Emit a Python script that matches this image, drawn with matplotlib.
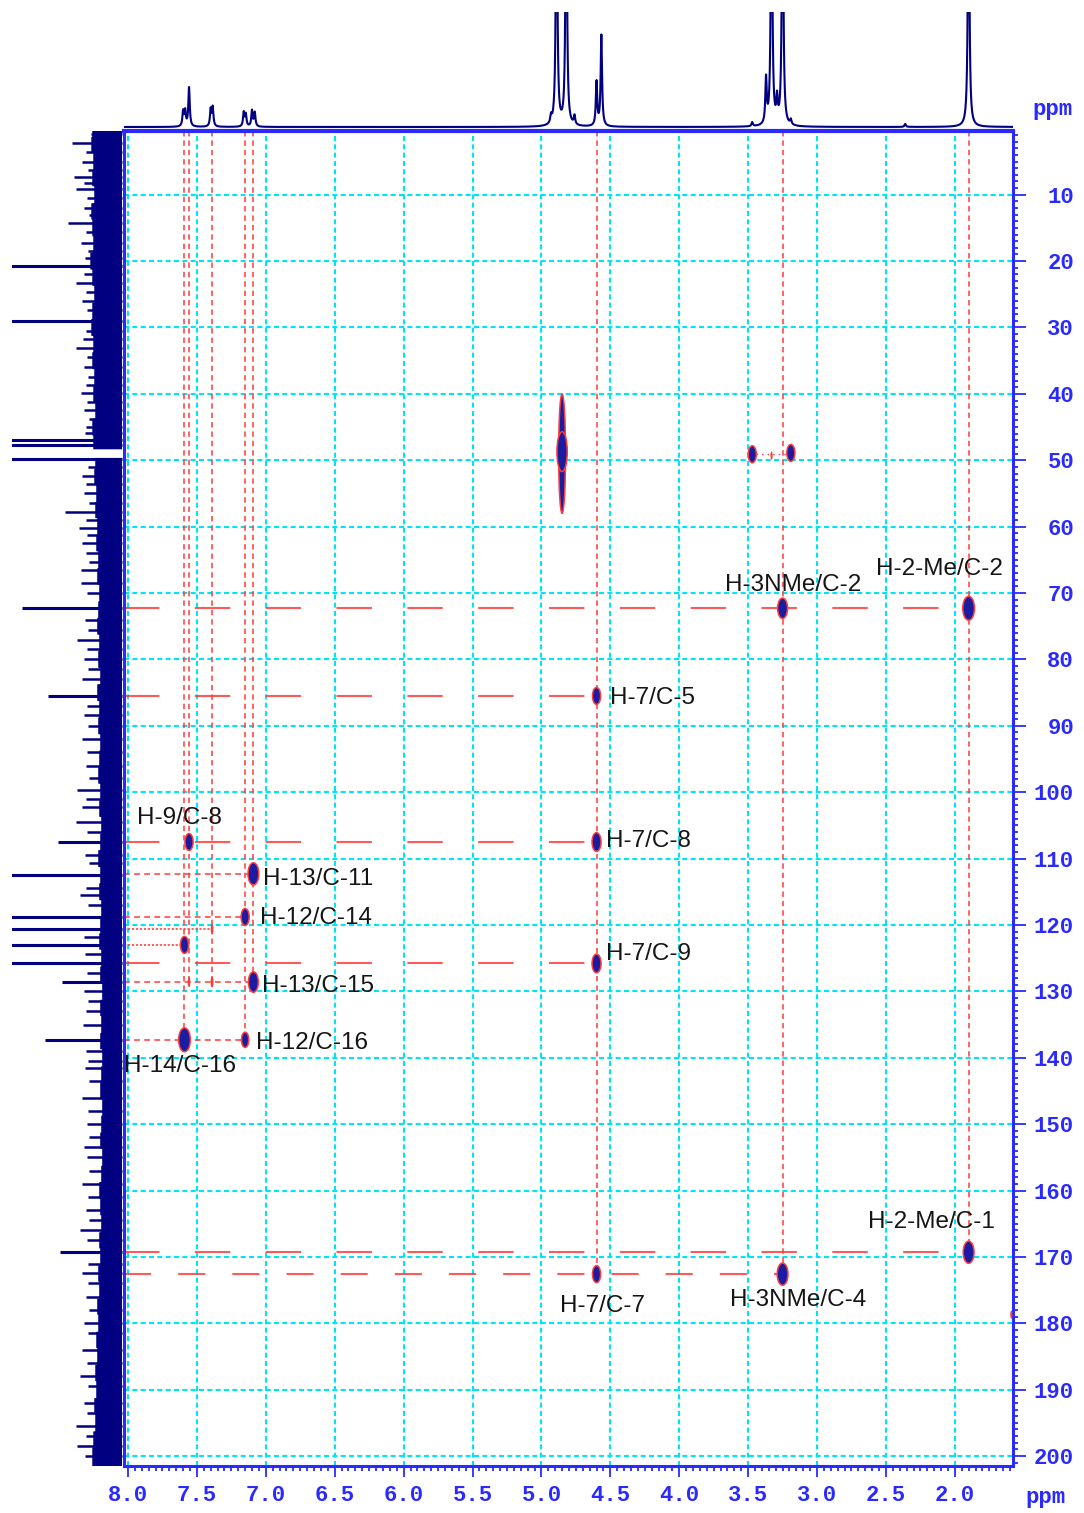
import numpy as np
import matplotlib
matplotlib.use("Agg")
import matplotlib.pyplot as plt
from matplotlib.patches import Ellipse
from matplotlib.ticker import MultipleLocator, FormatStrFormatter

# 1H projection: peak positions (ppm) and heights
h1_ppm = [7.600, 7.585, 7.557, 7.400, 7.385, 7.160, 7.145, 7.100, 7.080,
          4.930, 4.890, 4.820, 4.760, 4.600, 4.565,
          3.470, 3.370, 3.330, 3.290, 3.250, 3.190, 2.360, 1.900]
h1_height = [15, 15, 39, 17, 19, 14, 12, 16, 14,
             7, 300, 300, 9, 44, 91,
             4, 45, 300, 23, 300, 5, 3, 300]

# 13C projection: strong lines (ppm, length)
c13_ppm = [20.8, 29.0, 47.0, 47.7, 49.8, 72.3, 85.5, 107.5, 112.4, 118.8,
           120.6, 123.0, 125.8, 128.6, 137.3, 169.2]
c13_len = [120, 120, 120, 120, 120, 101, 75, 65, 120, 120,
           120, 120, 120, 61, 78, 63]

# 13C projection: noise spikes (ppm, length)
noise_ppm = [0.8, 2.2, 3.5, 5.0, 6.2, 7.4, 8.3, 9.2, 10.5, 12.0, 13.0, 14.2,
             15.6, 17.2, 18.5, 19.6, 22.0, 23.3, 24.6, 26.0, 27.3, 30.5, 31.8,
             33.1, 34.5, 36.0, 37.5, 38.6, 39.8, 41.2, 42.5, 43.8, 45.0, 45.9,
             51.0, 52.3, 53.5, 55.0, 56.5, 57.8, 59.0, 60.2, 61.3, 62.4, 64.0,
             65.3, 66.5, 68.5, 70.0, 74.0, 75.5, 77.0, 78.5, 80.0, 81.5, 83.0,
             87.0, 88.3, 90.0, 92.0, 94.0, 96.0, 97.8, 99.6, 101.0, 102.3,
             104.5, 106.0, 109.5, 110.6, 114.5, 115.5, 117.0, 121.8, 124.3,
             127.2, 130.0, 131.5, 133.0, 135.0, 139.0, 140.5, 141.5, 143.5,
             146.0, 148.0, 150.0, 152.0, 153.5, 155.0, 157.0, 159.0, 161.0,
             163.0, 164.5, 166.0, 167.5, 171.0, 172.5, 174.0, 176.0, 178.0,
             180.0, 181.5, 184.0, 186.0, 188.0, 189.5, 192.0, 193.5, 195.5,
             197.0, 198.5, 200.0]
noise_len = [31, 50, 36, 40, 34, 48, 38, 46, 35, 38, 33, 55,
             36, 41, 34, 37, 38, 46, 36, 40, 35, 36, 39,
             46, 35, 38, 34, 36, 41, 35, 38, 33, 36, 37,
             34, 40, 36, 38, 33, 58, 36, 43, 35, 40, 36,
             33, 41, 41, 35, 37, 34, 45, 35, 38, 34, 40,
             35, 38, 34, 40, 35, 36, 33, 45, 36, 40,
             46, 35, 37, 33, 36, 42, 34, 38, 37,
             35, 38, 34, 36, 39, 36, 34, 37, 33,
             40, 34, 35, 33, 38, 35, 33, 40, 34,
             36, 33, 42, 35, 34, 40, 34, 36, 33,
             38, 34, 40, 35, 42, 34, 38, 35, 46,
             36, 45, 37]

# 13C projection: baseline noise band width every 2.5 ppm (0..200)
band_w = [30, 31, 29, 30, 28, 31, 30, 29, 32, 30, 28, 30, 31, 29, 30, 28,
          29, 27, 30, 29, 27, 28, 26, 27, 25, 26, 24, 25, 23, 24, 25, 23,
          24, 22, 25, 23, 24, 22, 23, 24, 22, 23, 21, 22, 24, 22, 23, 21,
          22, 23, 21, 22, 20, 22, 21, 22, 20, 21, 22, 20, 21, 22, 20, 21,
          23, 22, 21, 23, 22, 24, 23, 25, 24, 26, 25, 27, 26, 28, 27, 29, 30]
solvent_gap = (48.4, 49.6)

# HMBC cross peaks: 1H shift, 13C shift, relative intensity
xp_h = [7.557, 7.090, 7.150, 7.390, 7.590, 7.557, 7.390, 7.090, 7.590, 7.150,
        4.600, 4.600, 4.600, 4.600, 3.250, 3.250, 1.900, 1.900,
        3.470, 3.190, 3.330, 1.590]
xp_c = [107.5, 112.3, 118.8, 120.6, 123.0, 128.6, 128.6, 128.6, 137.3, 137.3,
        85.5, 107.5, 125.8, 172.6, 72.3, 172.6, 72.3, 169.3,
        49.1, 48.9, 49.3, 178.7]
xp_int = [0.6, 0.9, 0.6, 0.2, 0.6, 0.2, 0.25, 0.8, 1.0, 0.5,
          0.6, 0.7, 0.7, 0.6, 0.8, 0.9, 1.0, 0.9,
          0.6, 0.6, 0.1, 0.1]
solvent_h, solvent_c = 4.85, 49.0

# assignment labels and their text anchors
labels = ["H-9/C-8", "H-13/C-11", "H-12/C-14", "H-13/C-15", "H-12/C-16",
          "H-14/C-16", "H-7/C-5", "H-7/C-8", "H-7/C-9", "H-7/C-7",
          "H-3NMe/C-4", "H-2-Me/C-1", "H-3NMe/C-2", "H-2-Me/C-2"]
label_h = [7.935, 7.02, 7.04, 7.03, 7.07, 8.03, 4.50, 4.53, 4.53, 4.865,
           3.63, 2.63, 3.67, 2.57]
label_c = [103.9, 113.1, 118.9, 129.2, 137.8, 141.2, 85.8, 107.3, 124.4,
           177.4, 176.5, 164.7, 68.8, 66.4]

# correlation guides: vertical (1H, end 13C) and horizontal (13C, end 1H)
vline_h = [7.594, 7.557, 7.390, 7.150, 7.090, 4.600, 3.250, 1.900]
vline_end = [137.3, 128.6, 128.6, 137.3, 128.6, 172.6, 172.6, 169.3]
hline_long_c = [72.3, 85.5, 107.5, 125.8, 169.3, 172.6]
hline_long_end = [1.90, 4.60, 4.60, 4.60, 1.90, 3.25]
hline_short_c = [112.3, 118.8, 128.6, 137.3]
hline_short_end = [7.09, 7.15, 7.09, 7.15]
hline_dot_c = [120.6, 123.0]
hline_dot_end = [7.39, 7.59]

NAVY = "#000080"
BLUE = "#2a2aff"
CYAN = "#00e5f5"
RED = "#ff3c3c"
XLIM = (8.029, 1.578)
YLIM = (201.5, 0.4)

W, H = 1084, 1513
fig = plt.figure(figsize=(W / 100, H / 100), dpi=100)

ax = fig.add_axes([124 / W, 1 - 1466 / H, 889 / W, 1335 / H])
ax_top = fig.add_axes([124 / W, 1 - 131 / H, 889 / W, 119 / H])
ax_left = fig.add_axes([12 / W, 1 - 1466 / H, 111 / W, 1335 / H])

# ---- 1H projection
x = np.arange(XLIM[1], XLIM[0], 0.0005)
spec = np.zeros_like(x)
gam = 0.006
for p, hgt in zip(h1_ppm, h1_height):
    spec += hgt * gam ** 2 / ((x - p) ** 2 + gam ** 2)
ax_top.plot(x, spec, color=NAVY, lw=1.5)
ax_top.set_xlim(*XLIM)
ax_top.set_ylim(-4, 115)
ax_top.axis("off")

# ---- 13C projection
yb = np.arange(0, 201.6, 0.05)
idx = np.clip(np.round(yb / 2.5).astype(int), 0, len(band_w) - 1)
band = np.array(band_w, float)[idx]
ok = (yb < solvent_gap[0]) | (yb > solvent_gap[1])
ax_left.fill_betweenx(yb, 0, band, where=ok, color=NAVY, lw=0)
ax_left.hlines(noise_ppm, 0, noise_len, color=NAVY, lw=1.8)
ax_left.hlines(c13_ppm, 0, c13_len, color=NAVY, lw=2.2)
ax_left.set_xlim(111, -1)
ax_left.set_ylim(*YLIM)
ax_left.axis("off")

# ---- 2D HMBC map
ax.set_xlim(*XLIM)
ax.set_ylim(*YLIM)
for g in np.arange(2.0, 8.01, 0.5):
    ax.axvline(g, color=CYAN, lw=1.5, ls=(0, (2.4, 1.6)), zorder=1)
for g in range(10, 201, 10):
    ax.axhline(g, color=CYAN, lw=1.5, ls=(0, (2.4, 1.6)), zorder=1)

for h, c_end in zip(vline_h, vline_end):
    ax.plot([h, h], [YLIM[1], c_end], color=RED, lw=1.3, alpha=0.85,
            ls=(0, (3.0, 2.2)), zorder=2)
for c, h_end in zip(hline_long_c, hline_long_end):
    pat = (0, (13, 13)) if c > 170 else (0, (17, 17))
    ax.plot([XLIM[0], h_end], [c, c], color=RED, lw=1.5, alpha=0.85,
            ls=pat, zorder=2)
for c, h_end in zip(hline_short_c, hline_short_end):
    ax.plot([XLIM[0], h_end], [c, c], color=RED, lw=1.3, alpha=0.85,
            ls=(0, (3.2, 2.4)), zorder=2)
for c, h_end in zip(hline_dot_c, hline_dot_end):
    ax.plot([XLIM[0], h_end], [c, c], color=RED, lw=1.3, alpha=0.9,
            ls=(0, (1.2, 1.0)), zorder=2)

for h, c, i in zip(xp_h, xp_c, xp_int):
    w = 0.02 + 0.065 * i
    hh = 1.0 + 2.6 * i
    if i <= 0.25:
        ax.add_patch(Ellipse((h, c), w * 0.6, hh, color=RED, lw=0, zorder=4))
    else:
        ax.add_patch(Ellipse((h, c), w, hh, facecolor="#1c1ca0",
                             edgecolor=RED, lw=1.1, zorder=4))

# solvent ridge
ax.add_patch(Ellipse((solvent_h, solvent_c), 0.05, 18.0, facecolor="#1c1ca0",
                     edgecolor=RED, lw=1.1, zorder=4))
ax.add_patch(Ellipse((solvent_h, solvent_c - 0.3), 0.075, 6, facecolor="#1c1ca0",
                     edgecolor=RED, lw=1.1, zorder=4))
ax.plot([3.44, 3.22], [49.0, 49.0], color=RED, lw=1, ls=(0, (1, 3)), zorder=3)

for t, h, c in zip(labels, label_h, label_c):
    ax.text(h, c, t, ha="left", va="center", fontsize=17.5,
            family="Liberation Sans", color="#151515", zorder=5)

# axes frame and ticks
for side, sp in ax.spines.items():
    sp.set_color(BLUE)
    sp.set_linewidth(2.2)
ax.spines["top"].set_linewidth(3.0)

ax.xaxis.set_major_locator(MultipleLocator(0.5))
ax.xaxis.set_minor_locator(MultipleLocator(0.05))
ax.xaxis.set_major_formatter(FormatStrFormatter("%.1f"))
ax.yaxis.set_major_locator(MultipleLocator(10))
ax.yaxis.set_minor_locator(MultipleLocator(1))
ax.yaxis.set_major_formatter(FormatStrFormatter("%d"))
ax.yaxis.tick_right()
ax.tick_params(axis="both", which="both", direction="out", colors=BLUE,
               width=1.3, top=False, left=False)
ax.tick_params(axis="x", which="major", length=8, pad=6)
ax.tick_params(axis="x", which="minor", length=3.5)
ax.tick_params(axis="y", which="major", length=9, pad=35)
ax.tick_params(axis="y", which="minor", length=3.5)
for lab in ax.get_xticklabels() + ax.get_yticklabels():
    lab.set_family("Liberation Mono")
    lab.set_fontweight("bold")
    lab.set_fontsize(16)
    lab.set_color(BLUE)
for lab in ax.get_yticklabels():
    lab.set_ha("right")

for px, py in [(1032, 110), (1025, 1498)]:
    fig.text(px / W, 1 - py / H, "ppm", ha="left", va="center",
             family="Liberation Mono", fontweight="bold", fontsize=16,
             color=BLUE)

fig.savefig("out.png", dpi=100)
